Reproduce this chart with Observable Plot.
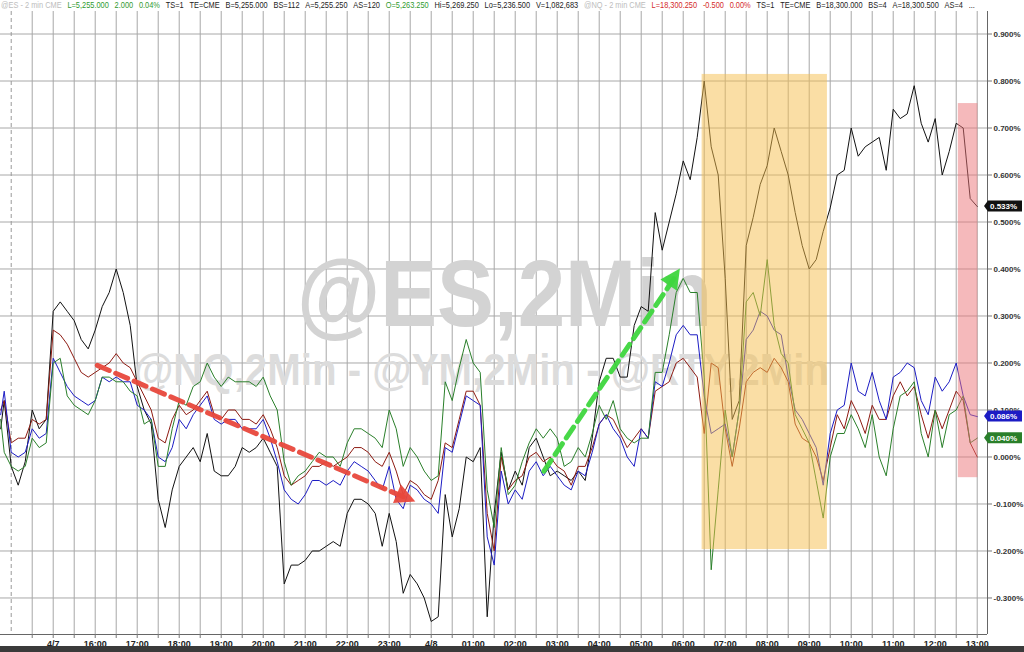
<!DOCTYPE html>
<html><head><meta charset="utf-8">
<script src="https://cdn.jsdelivr.net/npm/d3@7"></script>
<script src="https://cdn.jsdelivr.net/npm/@observablehq/plot@0.6"></script>
<style>
html,body{margin:0;padding:0;background:#fff;width:1024px;height:652px;overflow:hidden;font-family:"Liberation Sans",Arial,sans-serif;}
#wrap{position:relative;width:1024px;height:652px;}
#header{position:absolute;left:1px;top:0;height:11px;font-size:9px;line-height:11px;white-space:nowrap;z-index:2;transform-origin:0 0;}
#header span{margin-right:7px;}
#chart{position:absolute;left:0;top:11px;}
#bar{position:absolute;left:0;top:646px;width:1024px;height:6px;background:#3a3a3a;}
</style></head>
<body>
<div id="wrap"><div id="header"></div><div id="chart"></div><div id="bar"></div></div>
<script>
// ---------------- data ----------------
const times = [
"13:45","13:50",
"14:00","14:10","14:20","14:30","14:40","14:50",
"15:00","15:10","15:20","15:30","15:40","15:50",
"16:00","16:10","16:20","16:30","16:40","16:50",
"17:00","17:10","17:20","17:30","17:40","17:50",
"18:00","18:10","18:20","18:30","18:40","18:50",
"19:00","19:10","19:20","19:30","19:40","19:50",
"20:00","20:10","20:20","20:30","20:40","20:50",
"21:00","21:10","21:20","21:30","21:40","21:50",
"22:00","22:10","22:20","22:30","22:40","22:50",
"23:00","23:10","23:20","23:30","23:40","23:50",
"00:00","00:10","00:20","00:30","00:40","00:50",
"01:00","01:10","01:20","01:30","01:40","01:50",
"02:00","02:10","02:20","02:30","02:40","02:50",
"03:00","03:10","03:20","03:30","03:40","03:50",
"04:00","04:10","04:20","04:30","04:40","04:50",
"05:00","05:10","05:20","05:30","05:40","05:50",
"06:00","06:10","06:20","06:30","06:40","06:50",
"07:00","07:10","07:20","07:30","07:40","07:50",
"08:00","08:10","08:20","08:30","08:40","08:50",
"09:00","09:10","09:20","09:30","09:40","09:50",
"10:00","10:10","10:20","10:30","10:40","10:50",
"11:00","11:10","11:20","11:30","11:40","11:50",
"12:00","12:10","12:20","12:30","12:40","12:50",
"13:00"];

// @RTY (black)
const rtyValues = [
0.06,0.12,
-0.02,-0.06,-0.01,0.10,0.06,0.08,
0.31,0.33,0.31,0.29,0.25,0.23,
0.27,0.32,0.35,0.40,0.35,0.28,
0.15,0.10,0.07,-0.09,-0.15,-0.07,
-0.02,0.00,0.02,-0.01,0.05,-0.03,
-0.04,-0.04,-0.02,0.02,0.01,0.02,
0.04,0.01,-0.02,-0.27,-0.23,-0.23,
-0.22,-0.20,-0.20,-0.19,-0.18,-0.19,
-0.12,-0.09,-0.09,-0.10,-0.12,-0.19,
-0.12,-0.18,-0.29,-0.25,-0.27,-0.30,
-0.35,-0.34,-0.08,-0.17,-0.11,0.00,
-0.01,0.02,-0.34,-0.12,0.01,-0.07,
-0.03,-0.06,0.02,0.04,0.00,-0.04,
-0.03,-0.04,-0.05,-0.03,-0.05,0.04,
0.16,0.21,0.21,0.17,0.17,0.28,
0.32,0.31,0.52,0.44,0.50,0.56,
0.63,0.59,0.68,0.80,0.66,0.60,
0.38,0.08,0.12,0.45,0.51,0.58,
0.62,0.70,0.65,0.60,0.52,0.45,
0.40,0.42,0.48,0.53,0.60,0.61,
0.70,0.64,0.66,0.67,0.68,0.61,
0.74,0.72,0.73,0.79,0.71,0.67,
0.72,0.60,0.65,0.71,0.70,0.55,
0.533];

// @NQ (dark red)
const nqValues = [
0.10,0.12,
0.03,0.04,0.04,0.08,0.07,0.08,
0.27,0.26,0.24,0.21,0.18,0.17,
0.18,0.19,0.20,0.22,0.20,0.19,
0.16,0.13,0.10,0.04,0.03,0.08,
0.11,0.09,0.10,0.12,0.14,0.09,
0.08,0.10,0.10,0.08,0.08,0.07,
0.09,0.06,0.02,-0.04,-0.06,-0.05,
-0.04,-0.02,-0.02,-0.01,-0.02,-0.01,
0.00,0.02,0.02,0.01,-0.01,-0.02,
0.01,-0.03,-0.08,-0.05,-0.06,-0.08,
-0.09,-0.05,0.03,0.02,0.08,0.14,
0.14,0.11,-0.12,-0.20,0.00,-0.07,
-0.05,-0.04,0.00,0.01,-0.01,0.00,
-0.02,-0.03,-0.06,-0.02,-0.02,0.02,
0.07,0.09,0.08,0.05,0.02,0.04,
0.06,0.04,0.14,0.15,0.16,0.20,
0.21,0.19,0.17,0.05,0.20,0.19,
0.06,-0.02,0.06,0.16,0.18,0.19,
0.18,0.21,0.19,0.16,0.07,0.04,
0.03,0.00,-0.05,0.02,0.09,0.06,
0.12,0.09,0.05,0.11,0.08,0.08,
0.13,0.16,0.13,0.15,0.09,0.04,
0.10,0.06,0.10,0.14,0.12,0.03,
0.00];

// @YM (blue)
const ymValues = [
0.09,0.14,
0.01,0.00,0.01,0.06,0.04,0.05,
0.21,0.18,0.15,0.13,0.12,0.11,
0.12,0.17,0.16,0.17,0.16,0.16,
0.11,0.10,0.08,0.00,-0.01,0.02,
0.08,0.06,0.09,0.11,0.13,0.08,
0.07,0.08,0.08,0.06,0.06,0.06,
0.08,0.04,-0.01,-0.07,-0.09,-0.10,
-0.08,-0.05,-0.05,-0.06,-0.05,-0.06,
-0.03,-0.01,-0.02,-0.03,-0.05,-0.07,
-0.02,-0.09,-0.11,-0.06,-0.07,-0.09,
-0.10,-0.12,0.02,0.01,0.07,0.13,
0.12,0.11,-0.17,-0.23,-0.03,-0.10,
-0.07,-0.09,-0.03,-0.01,-0.04,-0.02,
-0.04,-0.06,-0.07,-0.03,-0.04,0.01,
0.07,0.09,0.06,0.04,0.00,-0.02,
0.06,0.04,0.16,0.15,0.20,0.26,
0.28,0.26,0.26,0.13,0.05,0.06,
0.07,0.00,0.10,0.25,0.27,0.31,
0.30,0.27,0.26,0.17,0.10,0.08,
0.05,0.02,-0.06,0.05,0.10,0.11,
0.20,0.14,0.13,0.18,0.12,0.08,
0.17,0.18,0.20,0.19,0.12,0.09,
0.17,0.14,0.16,0.20,0.13,0.09,
0.086];

// @ES (green)
const esValues = [
0.08,0.01,
-0.02,-0.03,-0.02,0.04,0.02,0.03,
0.20,0.21,0.13,0.11,0.10,0.09,
0.12,0.17,0.17,0.16,0.16,0.14,
0.13,0.07,0.08,-0.02,-0.02,0.06,
0.12,0.11,0.15,0.16,0.20,0.17,
0.15,0.17,0.16,0.16,0.16,0.15,
0.17,0.13,0.10,-0.01,-0.06,-0.04,
-0.03,-0.01,0.01,0.00,0.00,-0.02,
0.03,0.06,0.06,0.05,0.04,0.02,
0.10,0.06,-0.02,0.02,0.00,-0.03,
-0.05,-0.04,0.16,0.12,0.19,0.25,
0.20,0.18,-0.07,-0.15,0.02,-0.08,
-0.06,-0.01,0.03,0.06,0.04,0.06,
0.04,-0.02,-0.01,0.02,0.00,0.05,
0.11,0.08,0.12,0.06,0.04,0.03,
0.04,0.04,0.18,0.18,0.26,0.35,
0.38,0.35,0.35,0.17,-0.24,-0.07,
0.10,0.00,0.10,0.33,0.35,0.30,
0.42,0.28,0.22,0.20,0.09,0.06,
0.03,-0.05,-0.13,0.00,0.05,0.05,
0.09,0.06,0.02,0.09,0.00,-0.04,
0.06,0.13,0.14,0.16,0.05,0.00,
0.10,0.02,0.09,0.10,0.13,0.03,
0.04];

const seriesNames = ["@RTY","@NQ","@YM","@ES"];
const seriesColors = ["#111111","#8e1b12","#1c1cc4","#2a7f2a"];
const labelledSeries = ["@RTY","@YM","@ES"];

const yTicks = [-0.3,-0.2,-0.1,0,0.1,0.2,0.3,0.4,0.5,0.6,0.7,0.8,0.9];
const xTickTimes = ["15:00","16:00","17:00","18:00","19:00","20:00","21:00","22:00","23:00",
  "00:00","01:00","02:00","03:00","04:00","05:00","06:00","07:00","08:00","09:00","10:00","11:00","12:00","13:00"];
const xTickLabels = ["4/7","16:00","17:00","18:00","19:00","20:00","21:00","22:00","23:00",
  "4/8","01:00","02:00","03:00","04:00","05:00","06:00","07:00","08:00","09:00","10:00","11:00","12:00","13:00"];

const sessionBreak = ["4/7 14:00"];
const highlightStart = ["4/8 06:27","4/8 12:33"];
const highlightEnd   = ["4/8 09:26","4/8 13:01"];
const highlightTop   = [0.814, 0.752];
const highlightBottom= [-0.197, -0.044];
const highlightFill  = ["#f5bd4b","#eb7378"];

const arrowFrom  = ["4/7 16:03","4/8 02:41"];
const arrowFromV = [0.195, -0.03];
const arrowTo    = ["4/7 23:38","4/8 05:56"];
const arrowToV   = [-0.096, 0.40];
const arrowColor = ["#e8483c","#3ed63e"];

const watermarks = ["@ES,2Min","@NQ,2Min - @YM,2Min - @RTY,2Min"];

const headerItems = [
 ["@ES - 2 min CME","g"],["L=5,255.000","up"],["2.000","up"],["0.04%","up"],["TS=1","k"],["TE=CME","k"],
 ["B=5,255.000","k"],["BS=112","k"],["A=5,255.250","k"],["AS=120","k"],["O=5,263.250","up"],
 ["Hi=5,269.250","k"],["Lo=5,236.500","k"],["V=1,082,683","k"],
 ["@NQ - 2 min CME","g"],["L=18,300.250","dn"],["-0.500","dn"],["0.00%","dn"],["TS=1","k"],["TE=CME","k"],
 ["B=18,300.000","k"],["BS=4","k"],["A=18,300.500","k"],["AS=4","k"],["...","k"]];

// ---------------- helpers ----------------
function parseSeq(list){ let day=0, prev=-1; return list.map(s=>{const [h,m]=s.split(":").map(Number); const v=h+m/60; if(v<prev) day+=24; prev=v; return v+day;}); }
function parseStamp(s){ const [d,hm]=s.split(" "); const day=+d.split("/")[1]-7; const [h,m]=hm.split(":").map(Number); return day*24+h+m/60; }

const tH = parseSeq(times);
const valueLists = [rtyValues,nqValues,ymValues,esValues];
const rows = [];
seriesNames.forEach((name,j)=>valueLists[j].forEach((v,i)=>rows.push({t:tH[i],v,s:name})));

const tickT = parseSeq(xTickTimes);
const tickLabel = new Map(tickT.map((t,i)=>[t,xTickLabels[i]]));
const halfHours = d3.range(14.5, 37.01, 0.5);

const rects = highlightStart.map((s,i)=>({x1:parseStamp(s),x2:parseStamp(highlightEnd[i]),y1:highlightBottom[i],y2:highlightTop[i],fill:highlightFill[i]}));
const arrows = arrowFrom.map((s,i)=>({x1:parseStamp(s),y1:arrowFromV[i],x2:parseStamp(arrowTo[i]),y2:arrowToV[i],c:arrowColor[i]}));

// ---------------- header ----------------
const hcol = {g:"#bdbdbd", up:"#2f9a2f", dn:"#d42a2a", k:"#222"};
const header = document.getElementById("header");
headerItems.forEach(([txt,k])=>{const sp=document.createElement("span"); sp.textContent=txt; sp.style.color=hcol[k]; header.appendChild(sp);});

// ---------------- chart ----------------
const xDom=[13.745,37.245], yDom=[-0.3777,0.9479];
const grid="#a8a8a8";
const chart = Plot.plot({
  width:1024, height:635, marginTop:0, marginLeft:0, marginRight:37, marginBottom:12,
  style:{background:"transparent", fontFamily:"Liberation Sans, Arial, sans-serif", overflow:"visible"},
  x:{domain:xDom, axis:null},
  y:{domain:yDom, axis:null},
  color:{domain:seriesNames, range:seriesColors},
  marks:[
    Plot.ruleY(yTicks,{stroke:grid, strokeWidth:1}),
    Plot.ruleX(halfHours,{stroke:grid, strokeWidth:1}),
    Plot.ruleX(sessionBreak.map(parseStamp),{stroke:"#9a9a9a", strokeDasharray:"4,3"}),
    Plot.text([watermarks[0]],{frameAnchor:"top-left", dx:504, dy:284, textAnchor:"middle", lineAnchor:"middle", fontSize:95, fontWeight:"bold", fill:"#d3d3d3"}),
    Plot.text([watermarks[1]],{frameAnchor:"top-left", dx:481, dy:359, textAnchor:"middle", lineAnchor:"middle", fontSize:44, fontWeight:"bold", fill:"#dcdcdc"}),
    Plot.line(rows,{x:"t", y:"v", z:"s", stroke:"s", strokeWidth:1}),
    Plot.rect(rects,{x1:"x1", x2:"x2", y1:"y1", y2:"y2", fill:"fill", fillOpacity:0.5}),
    Plot.arrow(arrows,{x1:"x1", y1:"y1", x2:"x2", y2:"y2", stroke:"c", strokeWidth:5, strokeDasharray:"13,7", headLength:0, insetEnd:12, strokeOpacity:0.95}),
    Plot.ruleY([yDom[0]],{stroke:"#666"}),
    Plot.ruleX([xDom[1]],{stroke:"#666"}),
    Plot.axisX(halfHours,{tickFormat:d=>tickLabel.get(d)||"", tickSize:4, tickPadding:2, fontSize:9, fontWeight:"bold", fill:"#222", stroke:"#777"}),
    Plot.axisY(yTicks,{anchor:"right", tickSize:4, tickPadding:2, fontSize:8, fontWeight:"bold", fill:"#333", stroke:"#777", tickFormat:d=>d.toFixed(3)+"%"})
  ]
});
document.getElementById("chart").appendChild(chart);

// ---------------- post-render details through the plot's scales ----------------
const X = chart.scale("x"), Y = chart.scale("y");
const svg = d3.select(chart);
svg.selectAll("text").filter(function(){return this.textContent===watermarks[0];}).attr("textLength",415).attr("lengthAdjust","spacingAndGlyphs");
svg.selectAll("text").filter(function(){return this.textContent===watermarks[1];}).attr("textLength",695).attr("lengthAdjust","spacingAndGlyphs");

arrows.forEach(a=>{
  const px1=X.apply(a.x1), py1=Y.apply(a.y1), px2=X.apply(a.x2), py2=Y.apply(a.y2);
  const L=Math.hypot(px2-px1,py2-py1), ux=(px2-px1)/L, uy=(py2-py1)/L;
  const bx=px2-ux*20, by=py2-uy*20, nx=-uy, ny=ux;
  svg.append("polygon").attr("points",[[px2,py2],[bx+nx*10,by+ny*10],[bx-nx*10,by-ny*10]].map(p=>p.join(",")).join(" "))
     .attr("fill",a.c).attr("fill-opacity",0.95);
});

const xr = X.range[1];
labelledSeries.forEach(name=>{
  const j=seriesNames.indexOf(name); const vals=valueLists[j]; const last=vals[vals.length-1];
  const y=Y.apply(last);
  const g=svg.append("g");
  g.append("polygon").attr("points",`${xr-3},${y} ${xr+1},${y-5.5} ${xr+35},${y-5.5} ${xr+35},${y+5.5} ${xr+1},${y+5.5}`).attr("fill",seriesColors[j]);
  g.append("text").attr("x",xr+3).attr("y",y+3).attr("text-anchor","start").attr("fill","#fff").attr("font-size",8).attr("font-weight","bold").attr("font-family","Liberation Sans, Arial, sans-serif").text(last.toFixed(3)+"%");
});

const hw = header.scrollWidth;
header.style.transform = `scaleX(${980/hw})`;
</script>
</body></html>
